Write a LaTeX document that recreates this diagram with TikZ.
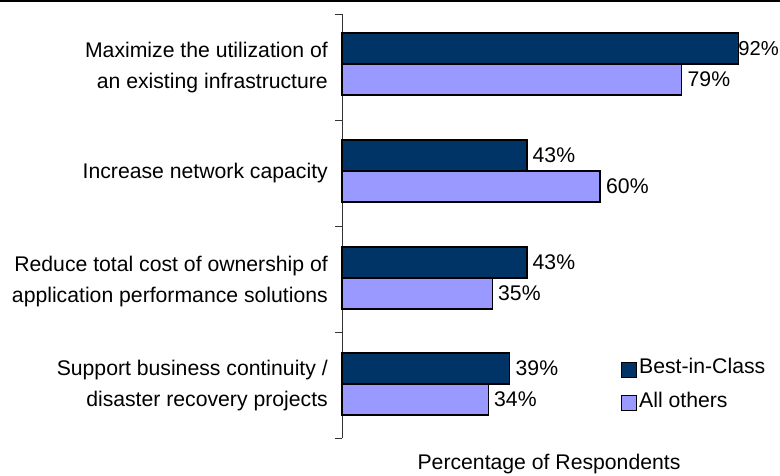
\documentclass[tikz,border=0pt]{standalone}
\usepackage{fontspec}
\setmainfont{Liberation Sans}
\usepackage{tikz}

\definecolor{bicblue}{RGB}{0,51,102}
\definecolor{othblue}{RGB}{153,153,255}

\begin{document}
\begin{tikzpicture}[x=1pt,y=-1pt,
            best/.style={fill=bicblue,draw=black,line width=1.4pt},
            others/.style={fill=othblue,draw=black,line width=1.4pt},
            txt/.style={inner sep=0pt,font=\fontsize{21.2}{31}\selectfont}]
            \useasboundingbox (0,0) rectangle (780,475);
            \draw[line width=2.3pt] (0,1.2) -- (780,1.2);

            \coordinate (top) at (342,14);
            \coordinate (bot) at (342,438);
            \draw[line width=1pt,color=black!80] (top) -- (bot);
            \draw[line width=1pt,color=black!80] (335,14) -- (top);
            \draw[line width=1pt,color=black!80] (335,120.5) -- (342,120.5);
            \draw[line width=1pt,color=black!80] (335,226) -- (342,226);
            \draw[line width=1pt,color=black!80] (335,332.5) -- (342,332.5);
            \draw[line width=1pt,color=black!80] (335,438) -- (bot);

            \filldraw[best]   (342,33) rectangle (738.5,64);
            \filldraw[others] (342,64) rectangle (681.7,95);
            \filldraw[best]   (342,140) rectangle (526.9,171);
            \filldraw[others] (342,171) rectangle (600,202);
            \filldraw[best]   (342,247) rectangle (526.9,278);
            \filldraw[others] (342,278) rectangle (492.5,309);
            \filldraw[best]   (342,353) rectangle (509.7,384);
            \filldraw[others] (342,384) rectangle (488.2,415);

            \node[txt,anchor=west,font=\fontsize{20.2}{31}\selectfont] (v1) at (738.2,48.5) {92\%};
            \node[txt,anchor=west] (v2) at (687.5,79.5) {79\%};
            \node[txt,anchor=west] (v3) at (532.5,155.5) {43\%};
            \node[txt,anchor=west] (v4) at (606,186.5) {60\%};
            \node[txt,anchor=west] (v5) at (532.5,262.5) {43\%};
            \node[txt,anchor=west] (v6) at (498,293.5) {35\%};
            \node[txt,anchor=west] (v7) at (515.5,368.5) {39\%};
            \node[txt,anchor=west] (v8) at (494,399.5) {34\%};

            % two-line labels: base is the last line
            \node[txt,anchor=base east,align=right] (c1) at (328,88) {Maximize the utilization of\\an existing infrastructure};
            \node[txt,anchor=base east] (c2) at (328,178) {Increase network capacity};
            \node[txt,anchor=base east,align=right] (c3) at (328,302) {Reduce total cost of ownership of\\application performance solutions};
            \node[txt,anchor=base east,align=right] (c4) at (328,406) {Support business continuity /\\disaster recovery projects};

            \filldraw[best,line width=1pt]   (621.5,362.5) rectangle (636.5,377.5);
            \filldraw[others,line width=1pt] (621.5,395.5) rectangle (636.5,410.5);
            \node[txt,anchor=base west] (l1) at (639,373) {Best-in-Class};
            \node[txt,anchor=base west] (l2) at (639,407) {All others};

            \node[txt,anchor=base] (xlabel) at (549,469) {Percentage of Respondents};
        \end{tikzpicture}
\end{document}
